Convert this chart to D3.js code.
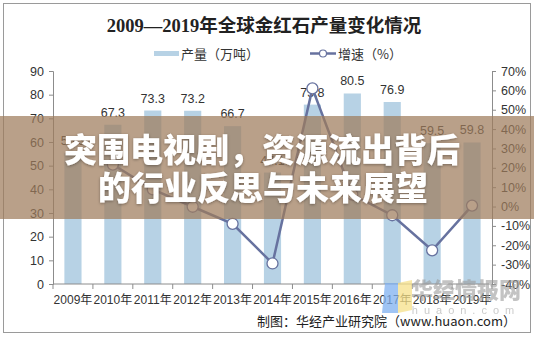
<!DOCTYPE html>
<html>
<head>
<meta charset="utf-8">
<script src="https://cdn.jsdelivr.net/npm/d3@7/dist/d3.min.js"></script>
<style>
  html, body { margin: 0; padding: 0; background: #fff; }
  svg { display: block; }
</style>
</head>
<body>
<svg id="chart" width="534" height="337"></svg>
<script>
// Global rutile output 2009–2019
const years = ["2009年","2010年","2011年","2012年","2013年","2014年","2015年","2016年","2017年","2018年","2019年"];
const output = [55.3, 67.3, 73.3, 73.2, 66.7, 47.1, 75.8, 80.5, 76.9, 59.5, 59.8];
const growth = [null, 21.7, 8.9, -0.1, -8.9, -29.4, 61.0, 6.2, -4.5, -22.6, 0.5];
const leftTicks = [0, 10, 20, 30, 40, 50, 60, 70, 80, 90];
const rightTicks = [-40, -30, -20, -10, 0, 10, 20, 30, 40, 50, 60, 70];

const W = 534, H = 337;
const plot = { left: 53, right: 492, top: 71, bottom: 284 };
const svg = d3.select("#chart");
const font = "Arial, 'Liberation Sans', 'Noto Sans CJK SC', sans-serif";
const cjk = "'Noto Sans CJK SC', sans-serif";

const barColor = "#b7d2e5";
const lineColor = "#67729f";
const axisColor = "#8c8c8c";
const textColor = "#333";

// outer frame
svg.append("rect").attr("x", 3.5).attr("y", 3.5).attr("width", 527).attr("height", 329)
  .attr("fill", "#fff").attr("stroke", "#9a9a9a").attr("stroke-width", 1);

// title
svg.append("text").attr("x", 264).attr("y", 32).attr("text-anchor", "middle")
  .attr("font-family", "'Liberation Serif', 'Noto Sans CJK SC', serif")
  .attr("font-weight", "bold").attr("font-size", 18.5).attr("fill", "#222")
  .text("2009—2019年全球金红石产量变化情况");

// legend
const lg = svg.append("g").attr("font-family", cjk).attr("font-size", 13).attr("fill", "#333");
lg.append("rect").attr("x", 154).attr("y", 51).attr("width", 25).attr("height", 5).attr("fill", barColor);
lg.append("text").attr("x", 181).attr("y", 58.5).text("产量（万吨）");
lg.append("line").attr("x1", 310).attr("x2", 336).attr("y1", 53.5).attr("y2", 53.5)
  .attr("stroke", lineColor).attr("stroke-width", 2.5);
lg.append("circle").attr("cx", 323).attr("cy", 53.5).attr("r", 3.5)
  .attr("fill", "#fff").attr("stroke", lineColor).attr("stroke-width", 1.2);
lg.append("text").attr("x", 338).attr("y", 58.5).text("增速（%）");

// scales
const x = d3.scaleBand().domain(years).range([plot.left, plot.right]).padding(0);
const yL = d3.scaleLinear().domain([0, 90]).range([plot.bottom, plot.top]);
const yR = d3.scaleLinear().domain([-40, 70]).range([plot.bottom, plot.top]);
const barW = x.bandwidth() * 0.43;

// bars
svg.append("g").selectAll("rect").data(output).join("rect")
  .attr("x", (d, i) => x(years[i]) + (x.bandwidth() - barW) / 2)
  .attr("y", d => yL(d))
  .attr("width", barW)
  .attr("height", d => yL(0) - yL(d))
  .attr("fill", barColor);

// bar value labels
svg.append("g").selectAll("text").data(output).join("text")
  .attr("x", (d, i) => x(years[i]) + x.bandwidth() / 2)
  .attr("y", d => yL(d) - 8)
  .attr("text-anchor", "middle")
  .attr("font-family", font).attr("font-size", 12.5).attr("fill", textColor)
  .text(d => d.toFixed(1));

// axes
const axL = svg.append("g").attr("transform", `translate(${plot.left},0)`)
  .call(d3.axisLeft(yL).tickValues(leftTicks).tickSize(4).tickPadding(5));
const axR = svg.append("g").attr("transform", `translate(${plot.right},0)`)
  .call(d3.axisRight(yR).tickValues(rightTicks).tickSize(4).tickPadding(5).tickFormat(d => d + "%"));
const axB = svg.append("g").attr("transform", `translate(0,${plot.bottom})`)
  .call(d3.axisBottom(x).tickSize(0).tickPadding(11));
// x-axis ticks sit on category boundaries
axB.selectAll(".bound").data(d3.range(years.length + 1)).join("line")
  .attr("class", "bound")
  .attr("x1", i => plot.left + i * x.step()).attr("x2", i => plot.left + i * x.step())
  .attr("y1", 0).attr("y2", 5).attr("stroke", axisColor);

[axL, axR, axB].forEach(a => {
  a.selectAll("path").attr("stroke", axisColor);
  a.selectAll(".tick line").attr("stroke", axisColor);
  a.selectAll("text").attr("font-family", font).attr("font-size", 12.5).attr("fill", textColor);
});
axB.selectAll("text").attr("font-size", 12);
axB.select("path").attr("d", `M${plot.left},0H${plot.right}`);

// growth line
const pts = growth.map((g, i) => ({ g, i })).filter(d => d.g !== null);
const line = d3.line().x(d => x(years[d.i]) + x.bandwidth() / 2).y(d => yR(d.g));
svg.append("path").datum(pts).attr("d", line)
  .attr("fill", "none").attr("stroke", lineColor).attr("stroke-width", 2.5);
svg.append("g").selectAll("circle").data(pts).join("circle")
  .attr("cx", d => x(years[d.i]) + x.bandwidth() / 2).attr("cy", d => yR(d.g))
  .attr("r", 5.5).attr("fill", "#fff").attr("stroke", lineColor).attr("stroke-width", 1.3);

// source note
svg.append("text").attr("x", 516).attr("y", 326).attr("text-anchor", "end")
  .attr("font-family", cjk).attr("font-size", 13).attr("fill", "#222")
  .text("制图：华经产业研究院（www.huaon.com）");

// site watermark
const wm = svg.append("g");
wm.append("path").attr("d", "M385,283 L398,283 L398,313 L382,313 Z").attr("fill", "#7fb0f0").attr("opacity", 0.75);
wm.append("path").attr("d", "M398,283 L412,280 L412,310 L398,313 Z").attr("fill", "#f5e08a").attr("opacity", 0.75);
wm.append("text").attr("x", 466).attr("y", 298).attr("text-anchor", "middle")
  .attr("font-family", cjk).attr("font-weight", 900).attr("font-size", 22)
  .attr("fill", "#9c9c9c").attr("opacity", 0.6).text("华经情报网");
wm.append("text").attr("x", 466).attr("y", 314).attr("text-anchor", "middle")
  .attr("font-family", font).attr("font-size", 11).attr("letter-spacing", 6)
  .attr("fill", "#b5b5b5").attr("opacity", 0.7).text("huaon.com");

// headline banner
svg.append("rect").attr("x", 0).attr("y", 116).attr("width", W).attr("height", 103)
  .attr("fill", "rgb(158,123,92)").attr("opacity", 0.72);
const defs = svg.append("defs");
const f = defs.append("filter").attr("id", "shadow").attr("x", "-10%").attr("y", "-30%").attr("width", "120%").attr("height", "160%");
f.append("feDropShadow").attr("dx", 0).attr("dy", 1).attr("stdDeviation", 1.5).attr("flood-color", "#000").attr("flood-opacity", 0.35);
const head = svg.append("g").attr("font-family", cjk).attr("font-weight", 900)
  .attr("font-size", 33).attr("fill", "#fff").attr("text-anchor", "middle").attr("filter", "url(#shadow)");
head.append("text").attr("x", 262).attr("y", 162).text("突围电视剧，资源流出背后");
head.append("text").attr("x", 263).attr("y", 200).text("的行业反思与未来展望");
</script>
</body>
</html>
